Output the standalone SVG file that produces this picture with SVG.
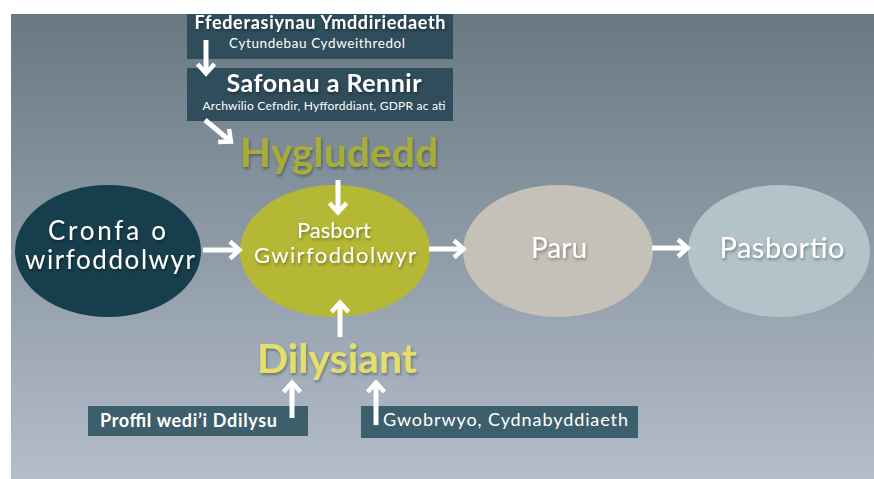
<svg xmlns="http://www.w3.org/2000/svg" width="874" height="479" viewBox="0 0 874 479">
  <defs>
    <linearGradient id="bg" x1="0" y1="0" x2="0" y2="1">
      <stop offset="0" stop-color="#687982"/>
      <stop offset="1" stop-color="#b4bdca"/>
    </linearGradient>
    <filter id="sh" x="-10%" y="-20%" width="120%" height="150%">
      <feDropShadow dx="1" dy="2" stdDeviation="1.5" flood-color="#000" flood-opacity="0.35"/>
    </filter>
    <marker id="ah" viewBox="0 0 16 22" refX="10" refY="11" markerWidth="16" markerHeight="22" markerUnits="userSpaceOnUse" orient="auto">
      <path d="M3,2.5 L12.5,11 L3,19.5" fill="none" stroke="#fff" stroke-width="4.5" stroke-linejoin="miter" stroke-linecap="butt"/>
    </marker>
    <style>
      .t { font-family: Lato, "Open Sans", "Liberation Sans", sans-serif; fill: #fff; }
      .b { font-weight: bold; }
      .box { fill: #2f4d5a; }
      .box2 { fill: #3d5e6b; }
      .conn line { stroke: #fff; stroke-width: 5; marker-end: url(#ah); }
    </style>
  </defs>

  <rect x="0" y="0" width="874" height="479" fill="#ffffff"/>
  <rect x="11" y="14" width="863" height="465" fill="url(#bg)"/>

  <g id="node-ffederasiynau">
    <rect class="box" x="187" y="14" width="266" height="45"/>
    <text class="t b" x="320" y="29" font-size="18" text-anchor="middle" textLength="251" lengthAdjust="spacing" filter="url(#sh)">Ffederasiynau Ymddiriedaeth</text>
    <text class="t" x="317" y="48" font-size="13.5" text-anchor="middle" textLength="176" lengthAdjust="spacing">Cytundebau Cydweithredol</text>
  </g>

  <g id="node-safonau">
    <rect class="box" x="187" y="68" width="266" height="53"/>
    <text class="t b" x="324" y="92" font-size="25" text-anchor="middle" textLength="195" lengthAdjust="spacing" filter="url(#sh)">Safonau a Rennir</text>
    <text class="t" x="324" y="110" font-size="12" text-anchor="middle" textLength="243" lengthAdjust="spacing">Archwilio Cefndir, Hyfforddiant, GDPR ac ati</text>
  </g>

  <g id="node-hygludedd">
    <text class="t b" x="339" y="167" font-size="40" text-anchor="middle" textLength="198" lengthAdjust="spacing" style="fill:#a8ad36" filter="url(#sh)">Hygludedd</text>
  </g>

  <g id="node-cronfa">
    <ellipse cx="108" cy="251" rx="93" ry="66" fill="#173e4c"/>
    <text class="t" x="107" y="239.5" font-size="26" text-anchor="middle" textLength="118" lengthAdjust="spacing" filter="url(#sh)">Cronfa o</text>
    <text class="t" x="110" y="269" font-size="26" text-anchor="middle" textLength="170" lengthAdjust="spacing" filter="url(#sh)">wirfoddolwyr</text>
  </g>

  <g id="node-pasbort">
    <ellipse cx="335" cy="251" rx="95" ry="66" fill="#b4b834"/>
    <text class="t" x="334" y="238" font-size="22" text-anchor="middle" filter="url(#sh)">Pasbort</text>
    <text class="t" x="335" y="263" font-size="22" text-anchor="middle" textLength="162" lengthAdjust="spacing" filter="url(#sh)">Gwirfoddolwyr</text>
  </g>

  <g id="node-paru">
    <ellipse cx="558" cy="251" rx="95" ry="66" fill="#c5c0b8"/>
    <text class="t" x="559" y="258" font-size="28" text-anchor="middle" filter="url(#sh)">Paru</text>
  </g>

  <g id="node-pasbortio">
    <ellipse cx="779" cy="251" rx="91" ry="66" fill="#b2c4ca"/>
    <text class="t" x="782" y="258" font-size="29" text-anchor="middle" textLength="125" lengthAdjust="spacing" filter="url(#sh)">Pasbortio</text>
  </g>

  <g id="node-dilysiant">
    <text class="t b" x="337" y="373" font-size="41" text-anchor="middle" textLength="160" lengthAdjust="spacing" style="fill:#e4df69" filter="url(#sh)">Dilysiant</text>
  </g>

  <g id="node-proffil">
    <rect class="box2" x="88" y="406" width="220" height="30"/>
    <text class="t b" x="100" y="427" font-size="18" textLength="177" lengthAdjust="spacing">Proffil wedi’i Ddilysu</text>
  </g>

  <g id="node-gwobrwyo">
    <rect class="box2" x="361" y="406" width="277" height="32"/>
    <text class="t" x="383" y="426" font-size="18" textLength="245" lengthAdjust="spacing">Gwobrwyo, Cydnabyddiaeth</text>
  </g>

  <g id="connectors" class="conn">
    <line x1="206" y1="40" x2="206" y2="71"/>
    <line x1="205" y1="120" x2="229" y2="140"/>
    <line x1="338" y1="180" x2="338" y2="210"/>
    <line x1="203" y1="250" x2="237" y2="250"/>
    <line x1="429" y1="249" x2="461" y2="249"/>
    <line x1="652" y1="248" x2="685" y2="248"/>
    <line x1="340" y1="337" x2="340" y2="305"/>
    <line x1="292" y1="418" x2="292" y2="385"/>
    <line x1="376" y1="425" x2="376" y2="385"/>
  </g>
</svg>
